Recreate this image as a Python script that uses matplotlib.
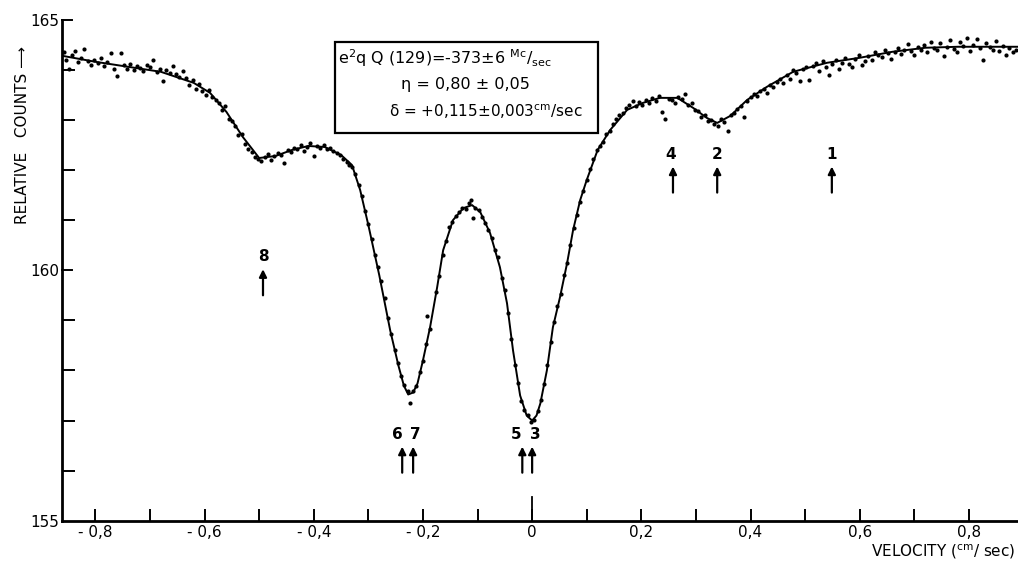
import matplotlib
matplotlib.use("Agg")
import matplotlib.pyplot as plt
from matplotlib.ticker import FixedLocator, MultipleLocator

plt.rcParams['font.family'] = ['DejaVu Sans']

# fitted curve
curve_x = [-0.861, -0.80, -0.74, -0.68, -0.62, -0.59, -0.56, -0.53, -0.50, -0.47,
           -0.44, -0.41, -0.38, -0.35, -0.33, -0.315, -0.30, -0.28, -0.26, -0.245,
           -0.235, -0.227, -0.218, -0.21, -0.20, -0.187, -0.174, -0.163, -0.145, -0.126,
           -0.11, -0.095, -0.077, -0.059, -0.046, -0.035, -0.022, -0.01, 0.0, 0.008,
           0.015, 0.027, 0.038, 0.051, 0.064, 0.075, 0.088, 0.10, 0.12, 0.143,
           0.174, 0.203, 0.234, 0.266, 0.295, 0.32, 0.339, 0.363, 0.394, 0.43,
           0.478, 0.54, 0.60, 0.66, 0.72, 0.78, 0.89]
curve_y = [164.28, 164.16, 164.06, 163.96, 163.74, 163.54, 163.16, 162.66, 162.24, 162.28,
           162.40, 162.48, 162.46, 162.30, 162.10, 161.60, 160.90, 159.90, 158.80, 158.10,
           157.70, 157.52, 157.56, 157.74, 158.20, 158.86, 159.66, 160.40, 161.00, 161.24,
           161.30, 161.16, 160.74, 160.06, 159.34, 158.40, 157.50, 157.10, 157.00, 157.10,
           157.34, 158.00, 158.86, 159.46, 160.14, 160.80, 161.40, 161.80, 162.40, 162.80,
           163.20, 163.34, 163.44, 163.44, 163.24, 163.04, 162.94, 163.08, 163.40, 163.66,
           163.96, 164.14, 164.24, 164.36, 164.44, 164.46, 164.46]

# measured points
pts_x = [-0.858, -0.853, -0.848, -0.843, -0.838, -0.832, -0.826, -0.820, -0.814, -0.808,
         -0.802, -0.796, -0.790, -0.784, -0.778, -0.772, -0.766, -0.760, -0.754, -0.748,
         -0.742, -0.736, -0.730, -0.724, -0.718, -0.712, -0.706, -0.700, -0.694, -0.688,
         -0.682, -0.676, -0.670, -0.664, -0.658, -0.652, -0.646, -0.640, -0.634, -0.628,
         -0.622, -0.616, -0.610, -0.604, -0.598, -0.592, -0.586, -0.580, -0.574, -0.568,
         -0.562, -0.556, -0.550, -0.544, -0.538, -0.532, -0.526, -0.520, -0.514, -0.508,
         -0.502, -0.496, -0.490, -0.484, -0.478, -0.472, -0.466, -0.460, -0.454, -0.448,
         -0.442, -0.436, -0.430, -0.424, -0.418, -0.412, -0.406, -0.400, -0.394, -0.388,
         -0.382, -0.376, -0.370, -0.364, -0.358, -0.352, -0.346, -0.340, -0.336,
         -0.330, -0.324, -0.318, -0.312, -0.306, -0.300, -0.294, -0.288, -0.282, -0.276,
         -0.270, -0.264, -0.258, -0.252, -0.246, -0.240, -0.234, -0.228, -0.224, -0.218,
         -0.212, -0.206, -0.200, -0.194, -0.192, -0.188, -0.176, -0.170, -0.164, -0.158,
         -0.152, -0.146, -0.140, -0.134, -0.128, -0.122, -0.116, -0.112, -0.108, -0.104,
         -0.098, -0.092, -0.086, -0.080, -0.074, -0.068, -0.062, -0.056, -0.050, -0.044,
         -0.038, -0.032, -0.026, -0.020, -0.014, -0.008, -0.002, 0.004, 0.010, 0.016,
         0.022, 0.028, 0.034, 0.040, 0.046, 0.052, 0.058, 0.064, 0.070, 0.076,
         0.082, 0.088, 0.094, 0.100, 0.106, 0.112, 0.118, 0.124,
         0.130, 0.136, 0.142, 0.148, 0.154, 0.160, 0.166, 0.172, 0.178, 0.184,
         0.190, 0.196, 0.202, 0.208, 0.214, 0.220, 0.226, 0.232, 0.238, 0.244,
         0.250, 0.256, 0.262, 0.268, 0.274, 0.280, 0.286, 0.292, 0.298, 0.304,
         0.310, 0.316, 0.322, 0.328, 0.334, 0.340, 0.346, 0.352, 0.358, 0.364,
         0.370, 0.376, 0.382, 0.388, 0.394, 0.400, 0.406, 0.412, 0.418, 0.424,
         0.430, 0.436, 0.442, 0.448, 0.454, 0.460, 0.466, 0.472, 0.478, 0.484,
         0.490, 0.496, 0.502, 0.508, 0.514, 0.520, 0.526, 0.532, 0.538, 0.544,
         0.550, 0.556, 0.562, 0.568, 0.574, 0.580, 0.586, 0.592, 0.598, 0.604,
         0.610, 0.616, 0.622, 0.628, 0.634, 0.640, 0.646, 0.652, 0.658, 0.664,
         0.670, 0.676, 0.682, 0.688, 0.694, 0.700, 0.706, 0.712, 0.718, 0.724,
         0.730, 0.736, 0.742, 0.748, 0.754, 0.760, 0.766, 0.772, 0.778, 0.784,
         0.790, 0.796, 0.802, 0.808, 0.814, 0.820, 0.826, 0.832, 0.838, 0.844,
         0.850, 0.856, 0.862, 0.868, 0.874, 0.880, 0.886]
pts_y = [164.36, 164.20, 164.02, 164.30, 164.38, 164.16, 164.24, 164.42, 164.18, 164.10,
         164.20, 164.14, 164.24, 164.08, 164.16, 164.34, 164.02, 163.88, 164.34, 164.10,
         164.02, 164.12, 164.00, 164.08, 164.04, 163.98, 164.10, 164.06, 164.20, 163.96,
         164.02, 163.78, 164.00, 163.94, 164.08, 163.92, 163.86, 163.98, 163.84, 163.70,
         163.80, 163.62, 163.72, 163.58, 163.50, 163.60, 163.46, 163.40, 163.34, 163.20,
         163.28, 163.02, 162.98, 162.88, 162.70, 162.72, 162.52, 162.42, 162.36, 162.26,
         162.22, 162.18, 162.26, 162.32, 162.20, 162.28, 162.34, 162.30, 162.14, 162.40,
         162.36, 162.44, 162.42, 162.50, 162.38, 162.46, 162.54, 162.28, 162.48, 162.44,
         162.50, 162.42, 162.44, 162.38, 162.34, 162.30, 162.22, 162.16, 162.10,
         162.06, 161.92, 161.70, 161.48, 161.18, 160.92, 160.62, 160.30, 160.06, 159.78,
         159.44, 159.04, 158.72, 158.40, 158.14, 157.88, 157.70, 157.58, 157.36, 157.58,
         157.68, 157.96, 158.18, 158.52, 159.08, 158.82, 159.56, 159.88, 160.30, 160.58,
         160.86, 160.96, 161.08, 161.16, 161.24, 161.22, 161.34, 161.40, 161.04, 161.24,
         161.20, 161.06, 160.94, 160.80, 160.64, 160.40, 160.26, 159.84, 159.60, 159.14,
         158.62, 158.10, 157.74, 157.40, 157.22, 157.12, 156.98, 157.02, 157.20, 157.42,
         157.72, 158.10, 158.56, 158.96, 159.28, 159.52, 159.90, 160.14, 160.50, 160.84,
         161.10, 161.36, 161.58, 161.80, 162.02, 162.22, 162.40, 162.48,
         162.56, 162.72, 162.78, 162.92, 163.02, 163.10, 163.14, 163.24, 163.30, 163.38,
         163.28, 163.36, 163.30, 163.40, 163.34, 163.44, 163.38, 163.48, 163.16, 163.02,
         163.42, 163.40, 163.34, 163.46, 163.42, 163.52, 163.30, 163.34, 163.20, 163.18,
         163.06, 163.10, 162.98, 163.00, 162.92, 162.88, 163.02, 162.96, 162.78, 163.10,
         163.14, 163.22, 163.28, 163.06, 163.38, 163.46, 163.52, 163.48, 163.58, 163.62,
         163.54, 163.70, 163.66, 163.76, 163.82, 163.74, 163.90, 163.82, 164.00, 163.94,
         163.78, 164.02, 164.06, 163.80, 164.08, 164.14, 163.98, 164.18, 164.06, 163.90,
         164.12, 164.20, 164.02, 164.14, 164.24, 164.12, 164.06, 164.22, 164.30, 164.10,
         164.18, 164.28, 164.20, 164.36, 164.30, 164.26, 164.40, 164.34, 164.22, 164.36,
         164.44, 164.32, 164.40, 164.52, 164.38, 164.30, 164.46, 164.40, 164.50, 164.36,
         164.56, 164.44, 164.40, 164.54, 164.28, 164.46, 164.60, 164.42, 164.36, 164.56,
         164.48, 164.64, 164.38, 164.50, 164.62, 164.44, 164.20, 164.54, 164.46, 164.40,
         164.58, 164.38, 164.48, 164.30, 164.44, 164.36, 164.40]

# line positions (numbered arrows)
line_labels = ['8', '6', '7', '5', '3', '4', '2', '1']
line_x = [-0.493, -0.238, -0.218, -0.018, 0.0, 0.258, 0.339, 0.549]
label_x = [-0.493, -0.246, -0.214, -0.029, 0.005, 0.254, 0.339, 0.549]
arrow_base = [159.50, 155.96, 155.96, 155.96, 155.96, 161.55, 161.55, 161.55]

xticks_major = [-0.8, -0.6, -0.4, -0.2, 0.0, 0.2, 0.4, 0.6, 0.8]
xtick_labels = ['- 0,8', '- 0,6', '- 0,4', '- 0,2', '0', '0,2', '0,4', '0,6', '0,8']
xticks_minor = [-0.7, -0.5, -0.3, -0.1, 0.1, 0.3, 0.5, 0.7]

fig = plt.figure(figsize=(10.18, 5.63), dpi=100)
ax = fig.add_axes([0.061, 0.075, 0.939, 0.89])

ax.plot(curve_x, curve_y, color='black', lw=1.4, zorder=2)
ax.scatter(pts_x, pts_y, s=9, color='black', zorder=3, linewidths=0)

for lab, xv, lx, yb in zip(line_labels, line_x, label_x, arrow_base):
    ax.annotate('', xy=(xv, yb + 0.52), xytext=(xv, yb),
                arrowprops=dict(arrowstyle='-|>', color='black', lw=1.6,
                                mutation_scale=11, shrinkA=0, shrinkB=0))
    ax.text(lx, yb + 0.62, lab, ha='center', va='bottom', fontsize=11, fontweight='bold')

# long tick at zero velocity
ax.plot([0, 0], [155, 155.48], color='black', lw=1.3, clip_on=False)

ax.set_xlim(-0.861, 0.89)
ax.set_ylim(155, 165)
ax.spines['top'].set_visible(False)
ax.spines['right'].set_visible(False)
ax.spines['left'].set_linewidth(2)
ax.spines['bottom'].set_linewidth(2)

ax.set_xticks(xticks_major)
ax.set_xticklabels(xtick_labels, fontsize=11)
ax.set_xticks(xticks_minor, minor=True)
ax.yaxis.set_major_locator(FixedLocator([155, 160, 165]))
ax.yaxis.set_minor_locator(MultipleLocator(1))
ax.tick_params(axis='both', which='both', direction='in', width=1.4, length=9)
ax.tick_params(axis='y', which='major', direction='out', length=0, labelsize=11, pad=2)
ax.tick_params(axis='x', which='major', pad=3)
for yv in [160, 165]:
    ax.plot([-0.861, -0.843], [yv, yv], color='black', lw=1.4, clip_on=False)

ax.text(-0.355, 164.45, 'e$^2$q Q (129)=-373±6 $^{\\mathregular{Mc}}$/$_{\\mathregular{sec}}$',
        fontsize=11.5, ha='left', va='top')
ax.text(-0.24, 163.85, 'η = 0,80 ± 0,05', fontsize=11.5, ha='left', va='top')
ax.text(-0.262, 163.35, 'δ = +0,115±0,003$^{\\mathregular{cm}}$/sec', fontsize=11,
        ha='left', va='top')
ax.add_patch(plt.Rectangle((-0.361, 162.74), 0.482, 1.82, fill=False, lw=1.6,
                           edgecolor='black', zorder=4))

fig.text(0.022, 0.76, 'RELATIVE   COUNTS ⟶', rotation=90, fontsize=11,
         ha='center', va='center')
fig.text(0.997, 0.020, 'VELOCITY ($^{\\mathregular{cm}}$/ sec)', fontsize=11,
         ha='right', va='center')

fig.savefig('out.png', dpi=100)
